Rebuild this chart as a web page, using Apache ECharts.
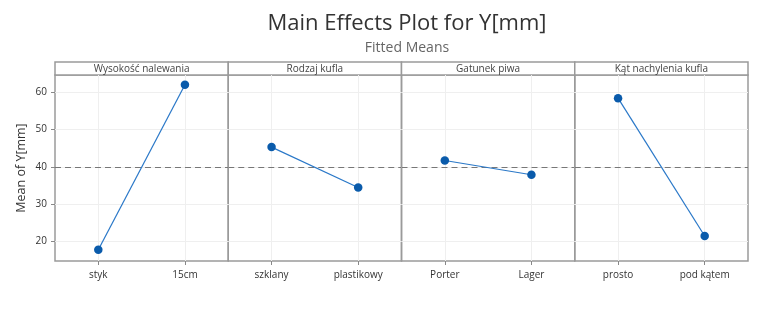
<!DOCTYPE html>
<html>
<head>
<meta charset="utf-8">
<script src="https://cdn.jsdelivr.net/npm/echarts@6/dist/echarts.min.js"></script>
<style>html,body{margin:0;padding:0;background:#fff}#c{width:768px;height:329px}</style>
</head>
<body>
<div id="c"></div>
<script>
const factorNames = ['Wysokość nalewania', 'Rodzaj kufla', 'Gatunek piwa', 'Kąt nachylenia kufla'];
const levels1 = ['styk', '15cm'];
const levels2 = ['szklany', 'plastikowy'];
const levels3 = ['Porter', 'Lager'];
const levels4 = ['prosto', 'pod kątem'];
const means1 = [17.8, 62.0];
const means2 = [45.3, 34.5];
const means3 = [41.7, 37.9];
const means4 = [58.4, 21.5];
const overallMean = 39.9;
const yTicks = [20, 30, 40, 50, 60];
const yMin = 14.8, yMax = 64.6;

const levels = [levels1, levels2, levels3, levels4];
const means = [means1, means2, means3, means4];

const FONT = 'Open Sans';
const plotLeft = 55, plotRight = 748, stripTop = 62, plotTop = 75, plotBottom = 261;
const panelW = (plotRight - plotLeft) / 4;
const borderColor = '#9a9a9a';
const gridColor = '#efefef';

const grids = [], xAxes = [], yAxes = [], series = [], graphics = [];
for (let i = 0; i < 4; i++) {
  grids.push({
    left: plotLeft + i * panelW, top: plotTop, width: panelW, height: plotBottom - plotTop,
    show: true, borderColor: borderColor, borderWidth: 1.5, backgroundColor: 'transparent'
  });
  xAxes.push({
    type: 'category', gridIndex: i, data: levels[i], boundaryGap: true,
    axisLine: { show: false },
    axisTick: { show: true, alignWithLabel: true, length: 4, lineStyle: { color: '#888' } },
    axisLabel: { fontFamily: FONT, fontSize: 10, color: '#333', margin: 9 },
    splitLine: { show: false }
  });
  yAxes.push({
    type: 'value', gridIndex: i, min: yMin, max: yMax,
    axisLine: { show: false },
    axisTick: { show: i === 0, length: 4, customValues: yTicks, lineStyle: { color: '#888' } },
    axisLabel: { show: i === 0, customValues: yTicks, fontFamily: FONT, fontSize: 10, color: '#333', margin: 8 },
    splitLine: { show: false },
    name: i === 0 ? 'Mean of Y[mm]' : '',
    nameLocation: 'middle', nameGap: 27, nameRotate: 90,
    nameTextStyle: { fontFamily: FONT, fontSize: 12.5, color: '#333' }
  });
  series.push({
    type: 'line', xAxisIndex: i, yAxisIndex: i, data: [], silent: true,
    markLine: {
      silent: true, symbol: 'none', label: { show: false },
      lineStyle: { color: gridColor, type: 'solid', width: 1 },
      data: yTicks.map(v => ({ yAxis: v })).concat(levels[i].map(c => ({ xAxis: c })))
    }
  });
  series.push({
    type: 'line', xAxisIndex: i, yAxisIndex: i, data: [], silent: true,
    markLine: {
      silent: true, symbol: 'none', label: { show: false },
      lineStyle: { color: '#777', type: [6, 4], width: 1 },
      data: [{ yAxis: overallMean }]
    }
  });
  series.push({
    type: 'line', xAxisIndex: i, yAxisIndex: i, data: means[i],
    symbol: 'circle', symbolSize: 8.5,
    itemStyle: { color: '#0a5bab' },
    lineStyle: { color: '#2a78c8', width: 1.2 },
    z: 5
  });
  graphics.push({
    type: 'rect', shape: { x: plotLeft + i * panelW, y: stripTop, width: panelW, height: plotTop - stripTop },
    style: { fill: '#fff', stroke: borderColor, lineWidth: 1.5 }
  });
  graphics.push({
    type: 'text', x: plotLeft + (i + 0.5) * panelW, y: (stripTop + plotTop) / 2 + 0.5,
    style: { text: factorNames[i], fontFamily: FONT, fontSize: 10, fill: '#444', align: 'center', verticalAlign: 'middle' }
  });
}

const chart = echarts.init(document.getElementById('c'), null, { renderer: 'canvas' });
chart.setOption({
  animation: false,
  title: [
    { text: 'Main Effects Plot for Y[mm]', left: 402, top: 8, textAlign: 'center',
      textStyle: { fontFamily: FONT, fontSize: 22, fontWeight: 500, color: '#333' } },
    { text: 'Fitted Means', left: 402, top: 36, textAlign: 'center',
      textStyle: { fontFamily: FONT, fontSize: 14, fontWeight: 'normal', color: '#666' } }
  ],
  grid: grids, xAxis: xAxes, yAxis: yAxes, series: series, graphic: graphics
});
</script>
</body>
</html>
